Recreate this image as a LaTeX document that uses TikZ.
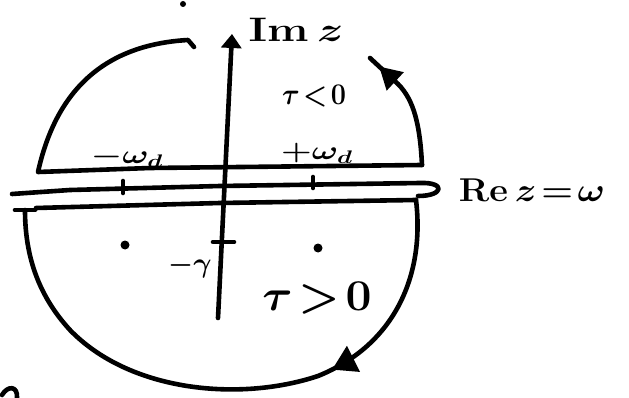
\RequirePackage{fix-cm}
\documentclass[tikz,border=0pt]{standalone}
\usepackage{graphicx}
\usetikzlibrary{arrows.meta,decorations.markings}
\tikzset{
  pen/.style={line width=4.6pt, line cap=round, line join=round, black},
  lbl/.style={inner sep=0pt, font=\fontsize{30}{34}\selectfont\boldmath},
  small lbl/.style={inner sep=0pt, font=\fontsize{26}{30}\selectfont\boldmath},
  dotmark/.style={circle, fill=black, inner sep=0pt, minimum size=9pt},
}
\begin{document}
\begin{tikzpicture}[x=1pt,y=-1pt]
\useasboundingbox (0,0) rectangle (629,398);
\fill[white] (0,0) rectangle (629,398);

% key points
\coordinate (ulEnd) at (188,40);
\coordinate (ulHook) at (194,47);
\coordinate (topL) at (38,172);
\coordinate (topR) at (422,165);
\coordinate (urEnd) at (370,58);
\coordinate (midL) at (12,194);
\coordinate (midR) at (420,183);
\coordinate (hookEnd) at (418,196);
\coordinate (lowL) at (36,208);
\coordinate (lowR) at (416,200);
\coordinate (arcL) at (25,210);
\coordinate (axB) at (218,318);
\coordinate (axT) at (232,34);

% upper-left arc and top line
\draw[pen] (ulHook) -- (ulEnd) .. controls (100,45) and (55,95) .. (topL)
  -- (150,168) -- (topR);
% upper-right arc with arrow (tau<0)
\draw[pen, postaction={decorate}, decoration={markings,
    mark=at position 0.9 with {\arrow{Triangle[length=22pt,width=24pt]}}}]
  (topR) .. controls (420,125) and (414,100) .. (398,84) -- (urEnd);

% middle line (real axis) with hook
\draw[pen] (midL) -- (70,190) -- (220,186) -- (midR)
  .. controls (446,182) and (444,196) .. (hookEnd);

% lower line with left tick
\draw[pen] (15,210) -- (35,210);
\draw[pen] (lowL) -- (220,203) -- (lowR);

% lower arc with arrow (tau>0)
\draw[pen, postaction={decorate}, decoration={markings,
    mark=at position 0.33 with {\arrow{Triangle[length=24pt,width=28pt]}}}]
  (lowR) .. controls (425,275) and (395,345) .. (318,376)
  .. controls (240,402) and (130,392) .. (70,330)
  .. controls (35,292) and (25,250) .. (arcL);

% imaginary axis
\draw[pen, -{Triangle[length=14pt,width=20pt]}] (axB) -- (axT);

% ticks
\draw[pen] (123,181) -- (123,193);
\draw[pen] (313,177) -- (313,188);
\draw[pen] (213,242) -- (234,242);

% poles
\node[dotmark] (p1) at (125,245) {};
\node[dotmark] (p2) at (318,248) {};

% labels
\node[lbl, font=\fontsize{34}{38}\selectfont\boldmath] (im) at (296,30) {\scalebox{1.3}[1]{$\mathrm{Im}\,z$}};
\node[lbl] (tn) at (314,96) {\scalebox{0.9}[1]{$\tau\!<\!0$}};
\node[small lbl] (mwd) at (127,157) {\scalebox{1.35}[1]{$-\omega_d$}};
\node[small lbl] (pwd) at (317,153) {\scalebox{1.35}[1]{$+\omega_d$}};
\node[lbl, font=\fontsize{33}{38}\selectfont\boldmath] (re) at (532,190) {\scalebox{1.1}[1]{$\mathrm{Re}\,z\!=\!\omega$}};
\node[lbl, font=\fontsize{28}{32}\selectfont\boldmath] (gam) at (190,266) {$-\gamma$};
\node[lbl, font=\fontsize{44}{48}\selectfont\boldmath] (tp) at (317,298) {\scalebox{1.05}[1]{$\tau\!>\!0$}};

% stray marks at edges
\fill (183,4) circle (3);
\draw[pen] (2,395) .. controls (8,385) and (18,386) .. (17,398);
\end{tikzpicture}
\end{document}
